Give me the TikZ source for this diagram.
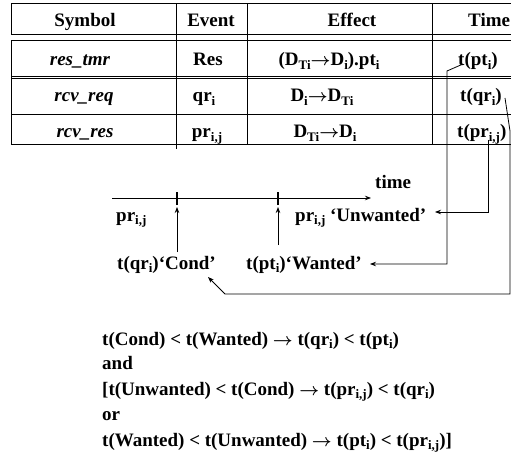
\documentclass[tikz,border=0pt]{standalone}
\usepackage{fontspec}
\setmainfont{Liberation Serif}
\usetikzlibrary{arrows.meta}
\newcommand\sbs[1]{\raisebox{-0.17em}{\fontsize{13}{13}\selectfont #1}}
\newcommand\arr{{\boldmath$\rightarrow$}}
\begin{document}
\begin{tikzpicture}[x=1pt,y=-1pt,
  txt/.style={inner sep=0pt,font=\bfseries\fontsize{19}{22}\selectfont},
  sym/.style={txt,font=\bfseries\itshape\fontsize{19}{22}\selectfont},
  rule/.style={line width=0.9pt},
  conn/.style={line width=0.8pt},
  tip/.style={conn,-{Stealth[length=6pt,width=4.5pt]}},
  tick/.style={line width=1.6pt}]
\useasboundingbox (0,0) rectangle (511,457);
\clip (0,0) rectangle (511,457);
% table frame
\draw[rule] (530,3.5) -- (11,3.5) -- (11,34) -- (530,34);
\draw[rule] (530,40.5) -- (11,40.5) -- (11,144) -- (530,144);
\draw[rule] (11,76) -- (530,76);
\draw[rule] (11,78.5) -- (530,78.5);
\draw[rule] (11,114) -- (530,114);
\draw[rule] (176,3.5) -- (176,149);
\draw[rule] (247,3.5) -- (247,144);
\draw[rule] (432,3.5) -- (432,144);
% header
\node[txt,anchor=base] (hS) at (85,27) {Symbol};
\node[txt,anchor=base] (hE) at (211,27) {Event};
\node[txt,anchor=base] (hF) at (352,27) {Effect};
\node[txt,anchor=base west] (hT) at (468,27) {Time};
% row 1
\node[sym,anchor=base] (s1) at (80,66) {res\_tmr};
\node[txt,anchor=base] (e1) at (208,66) {Res};
\node[txt,anchor=base] (f1) at (329,66) {(D\sbs{Ti}\arr D\sbs{i}).pt\sbs{i}};
\node[txt,anchor=base west] (t1) at (458,66) {t(pt\sbs{i})};
% row 2
\node[sym,anchor=base] (s2) at (84,102) {rcv\_req};
\node[txt,anchor=base] (e2) at (204,102) {qr\sbs{i}};
\node[txt,anchor=base] (f2) at (322,102) {D\sbs{i}\arr D\sbs{Ti}};
\node[txt,anchor=base west] (t2) at (460,102) {t(qr\sbs{i})};
% row 3
\node[sym,anchor=base] (s3) at (85,138) {rcv\_res};
\node[txt,anchor=base] (e3) at (207,138) {pr\sbs{i,j}};
\node[txt,anchor=base] (f3) at (325,138) {D\sbs{Ti}\arr D\sbs{i}};
\node[txt,anchor=base west] (t3) at (457,138) {t(pr\sbs{i,j})};
% timeline
\coordinate (tl0) at (112,198);
\coordinate (tl1) at (371,198);
\draw[tip] (tl0) -- (tl1);
\coordinate (k1) at (177,198);
\coordinate (k2) at (278,198);
\draw[tick] ([yshift=-7pt]k1) -- ([yshift=6pt]k1);
\draw[tick] ([yshift=-7pt]k2) -- ([yshift=6pt]k2);
\node[txt,anchor=base west] (time) at (375,189) {time};
\node[txt,anchor=base west] (prl) at (116,221) {pr\sbs{i,j}};
\node[txt,anchor=base west] (unw) at (295,221) {pr\sbs{i,j} ‘Unwanted’};
\node[txt,anchor=base west] (cond) at (117,269) {t(qr\sbs{i})‘Cond’};
\node[txt,anchor=base west] (want) at (246,269) {t(pt\sbs{i})‘Wanted’};
\coordinate (a1s) at (177,252);
\coordinate (a1e) at (177,207);
\coordinate (a2s) at (278,245);
\coordinate (a2e) at (278,207);
\draw[tip] (a1s) -- (a1e);
\draw[tip] (a2s) -- (a2e);
% connectors
\coordinate (c1s) at (463,64);
\coordinate (c1e) at (370,264);
\draw[tip] (c1s) -- (447,71) -- (447,264) -- (c1e);
\coordinate (c2s) at (488,140);
\coordinate (c2e) at (435,212);
\draw[tip] (c2s) -- (488,212) -- (c2e);
\coordinate (c3s) at (505,98);
\coordinate (c3e) at (208,277);
\draw[tip] (c3s) -- (510,131) -- (510,294) -- (225,294) -- (c3e);
% conditions
\node[txt,anchor=base west] (l1) at (102,345) {t(Cond) < t(Wanted) \arr{} t(qr\sbs{i}) < t(pt\sbs{i})};
\node[txt,anchor=base west] (l2) at (102,369) {and};
\node[txt,anchor=base west] (l3) at (102,395) {[t(Unwanted) < t(Cond) \arr{} t(pr\sbs{i,j}) < t(qr\sbs{i})};
\node[txt,anchor=base west] (l4) at (102,420) {or};
\node[txt,anchor=base west] (l5) at (102,446) {t(Wanted) < t(Unwanted) \arr{} t(pt\sbs{i}) < t(pr\sbs{i,j})]};
\end{tikzpicture}
\end{document}
